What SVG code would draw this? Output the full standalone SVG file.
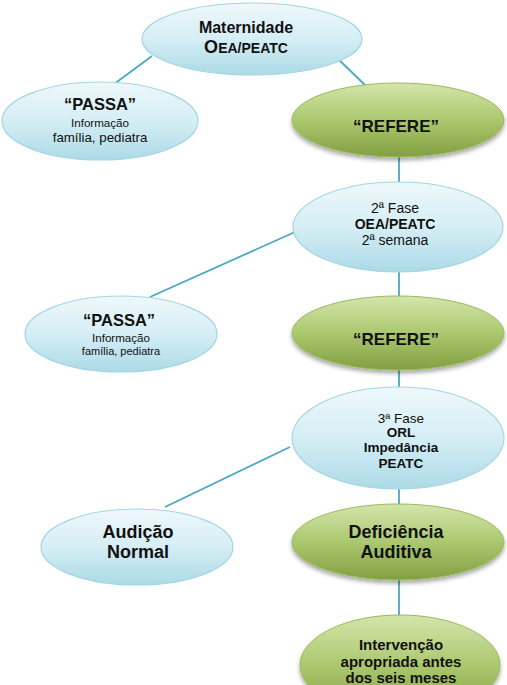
<svg xmlns="http://www.w3.org/2000/svg" width="507" height="685" viewBox="0 0 507 685">
<defs>
  <linearGradient id="gBlue" x1="0" y1="0" x2="0" y2="1">
    <stop offset="0" stop-color="#eef8fb"/>
    <stop offset="0.5" stop-color="#d5eef5"/>
    <stop offset="1" stop-color="#acdae7"/>
  </linearGradient>
  <linearGradient id="gGreen" x1="0" y1="0" x2="0" y2="1">
    <stop offset="0" stop-color="#d4e5ab"/>
    <stop offset="0.5" stop-color="#abc86f"/>
    <stop offset="1" stop-color="#819f42"/>
  </linearGradient>
  <filter id="sh" x="-10%" y="-10%" width="120%" height="130%">
    <feGaussianBlur in="SourceAlpha" stdDeviation="2"/>
    <feOffset dx="0" dy="3" result="b"/>
    <feComponentTransfer><feFuncA type="linear" slope="0.35"/></feComponentTransfer>
    <feMerge><feMergeNode/><feMergeNode in="SourceGraphic"/></feMerge>
  </filter>
</defs>
<style>
  .blue { fill: url(#gBlue); stroke: #a3d5e3; stroke-width: 1.2; }
  .green { fill: url(#gGreen); stroke: #9bbb59; stroke-width: 1; filter: url(#sh); }
  .conn line { stroke: #4aa8c3; stroke-width: 1.8; }
  text { font-family: "Liberation Sans", Arial, sans-serif; text-anchor: middle; fill: #111; }
  .b { font-weight: bold; }
</style>
<g class="conn" id="connectors">
  <line x1="152" y1="56" x2="106" y2="90"/>
  <line x1="335" y1="56" x2="366" y2="86"/>
  <line x1="399" y1="157" x2="399" y2="183"/>
  <line x1="295" y1="232" x2="150" y2="297"/>
  <line x1="399" y1="272" x2="399" y2="298"/>
  <line x1="399" y1="370" x2="399" y2="388"/>
  <line x1="290" y1="447" x2="165" y2="507"/>
  <line x1="399" y1="489" x2="399" y2="506"/>
  <line x1="399" y1="580" x2="399" y2="616"/>
</g>
<g id="maternidade">
  <ellipse class="blue" cx="252" cy="39" rx="110" ry="36"/>
  <text class="b" x="246" y="33" font-size="16">Maternidade</text>
  <text class="b" x="246" y="53" font-size="14"><tspan font-size="18">O</tspan>EA/PEATC</text>
</g>
<g id="passa1">
  <ellipse class="blue" cx="100" cy="121" rx="98" ry="39"/>
  <text class="b" x="100" y="110" font-size="16.5">“PASSA”</text>
  <text x="100" y="127" font-size="11.6">Informação</text>
  <text x="100" y="142" font-size="13.3">família, pediatra</text>
</g>
<g id="refere1">
  <ellipse class="green" cx="398" cy="120" rx="106" ry="37"/>
  <text class="b" x="396" y="132" font-size="17">“REFERE”</text>
</g>
<g id="fase2">
  <ellipse class="blue" cx="398" cy="227" rx="105" ry="45"/>
  <text x="395" y="213" font-size="14">2ª Fase</text>
  <text class="b" x="395" y="229" font-size="14">OEA/PEATC</text>
  <text x="395" y="245" font-size="14">2ª semana</text>
</g>
<g id="passa2">
  <ellipse class="blue" cx="121" cy="334" rx="96" ry="38"/>
  <text class="b" x="119" y="326" font-size="16.5">“PASSA”</text>
  <text x="121" y="342" font-size="11.6">Informação</text>
  <text x="121" y="355" font-size="11">família, pediatra</text>
</g>
<g id="refere2">
  <ellipse class="green" cx="398" cy="333" rx="106" ry="37"/>
  <text class="b" x="396" y="345" font-size="17">“REFERE”</text>
</g>
<g id="fase3">
  <ellipse class="blue" cx="398" cy="438" rx="106" ry="51"/>
  <text x="401" y="423" font-size="13.5">3ª Fase</text>
  <text class="b" x="401" y="437" font-size="13.5">ORL</text>
  <text class="b" x="401" y="452" font-size="13.5">Impedância</text>
  <text class="b" x="401" y="468" font-size="13.5">PEATC</text>
</g>
<g id="audicao">
  <ellipse class="blue" cx="137" cy="547" rx="96" ry="38"/>
  <text class="b" x="138" y="538" font-size="18">Audição</text>
  <text class="b" x="138" y="558" font-size="18">Normal</text>
</g>
<g id="deficiencia">
  <ellipse class="green" cx="398" cy="542" rx="106" ry="38"/>
  <text class="b" x="396" y="538" font-size="18">Deficiência</text>
  <text class="b" x="396" y="558" font-size="18">Auditiva</text>
</g>
<g id="intervencao">
  <ellipse class="green" cx="400" cy="665" rx="100" ry="50"/>
  <text class="b" x="401" y="650" font-size="15">Intervenção</text>
  <text class="b" x="401" y="667" font-size="15">apropriada antes</text>
  <text class="b" x="401" y="683" font-size="15">dos seis meses</text>
</g>
</svg>
